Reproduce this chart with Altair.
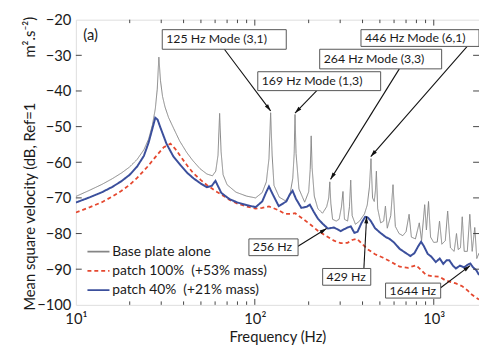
import math
import altair as alt
import pandas as pd

# ---------------- data ----------------
base_f = [10, 12, 14, 16, 18, 20, 22, 24, 25.5, 26.8, 27.8, 28.5, 29.1, 29.7, 30.5, 31.5, 33, 35.2, 38,
          41.7, 45, 49.4, 54, 58, 60.5, 62.3, 63.6, 64.8, 66.5, 70, 78.5, 90, 101, 110, 116, 120, 122.6,
          125, 128, 137, 148, 157, 163, 166, 167.8, 170, 176.5, 190, 200, 204, 206.6, 209, 215, 225, 239,
          252, 259, 262.5, 266, 272, 285, 296, 305, 311, 317, 330, 338, 343.5, 350, 365, 385, 410, 425,
          437, 446, 455, 465, 472, 478, 486, 505, 525, 537, 550, 575, 592, 610, 640, 671, 700, 728, 750,
          790, 830, 855, 890, 910, 935, 960, 1000, 1046, 1077, 1110, 1160, 1196, 1240, 1300, 1340, 1370,
          1410, 1443, 1480, 1540, 1590, 1640, 1695, 1740, 1790]
base_db = [-69.6, -67.8, -66.2, -64.6, -63, -61.3, -59.2, -56.5, -53.5, -49.5, -45, -39.5, -30.5, -37,
           -41.5, -44.5, -47.5, -50.5, -54, -57.3, -59.5, -61.8, -63.3, -63.8, -62.5, -58, -46.3, -57,
           -63.5, -66.3, -68.4, -69.5, -70, -68.5, -65.5, -59, -46.1, -58, -66.5, -69.8, -70.8, -69.3,
           -64.5, -57.5, -46.6, -57.5, -67.5, -71.2, -68.3, -62, -52.6, -61.5, -69.5, -73, -74.3, -72.5,
           -70, -65.5, -71.5, -76, -76.5, -76, -72.5, -68.2, -76, -76.5, -72.5, -65, -75, -77.4, -76.5,
           -74.5, -72, -67, -59, -70, -71, -68, -62.5, -73, -77, -76.5, -72.3, -78.5, -75, -66.3, -78,
           -80, -80.6, -79.5, -74.6, -81, -81.5, -77, -82, -71.9, -79, -71, -81, -82.5, -82.4, -76.5,
           -83, -82, -73.7, -84, -85, -80, -84.5, -84, -75.3, -85, -85, -74.6, -85, -78.3, -87, -85.5]

p100_f = [10, 12, 14, 16, 18, 20, 22, 25.2, 28.6, 31, 33.8, 36, 38.4, 42, 45.4, 50, 53.7, 60, 66.3, 72,
          80, 90, 101, 110, 120, 135, 148, 160, 168, 185, 206, 225, 247, 277, 302, 330, 350, 373, 400,
          424, 470, 522, 580, 645, 720, 760, 797, 840, 906, 990, 1073, 1150, 1222, 1330, 1443, 1550,
          1638, 1790]
p100_db = [-74.1, -72.6, -71.2, -69.6, -68, -66.3, -64.4, -61.2, -57.8, -55.8, -54.8, -56.3, -58.3, -61,
           -63.1, -65, -66.3, -68, -69.3, -70.5, -71.6, -72.4, -73, -72.8, -72.4, -73.4, -74.5, -74.5,
           -74.3, -75.8, -77.6, -79.2, -80.5, -82, -82.7, -82.6, -81.8, -81.5, -83, -84.3, -85.8, -86.8,
           -88, -89.3, -89.6, -89.2, -88.9, -90, -91.6, -92, -92.1, -93, -93.5, -94, -94.8, -96, -97.2,
           -98.5]

p40_f = [10, 12, 14, 16, 18, 20, 22, 24, 25.5, 26.8, 27.8, 28.6, 29.8, 32.1, 35, 38.4, 42, 45.4, 50, 54,
         57.5, 60.3, 62, 65, 72, 80, 90, 101, 110, 116, 120, 126, 136, 150, 157, 162.6, 170, 182, 195,
         203, 213, 225, 240, 256, 277, 302, 330, 344, 360, 375, 395, 414, 428, 445, 470, 500, 540, 566,
         600, 645, 700, 740, 780, 820, 850, 880, 925, 970, 1027, 1080, 1130, 1180, 1222, 1280, 1330,
         1400, 1480, 1540, 1600, 1660, 1730, 1790]
p40_db = [-71.3, -69.8, -68.4, -66.9, -65.3, -63.5, -61.2, -58.2, -54.5, -50.5, -47.5, -48, -50.5, -54.8,
          -58.3, -60.8, -63, -64.5, -66, -67, -66.6, -65.2, -66.5, -68.6, -70.3, -71.3, -72, -72.6, -71,
          -68.3, -66.8, -69, -72.3, -71, -69, -68, -70.3, -72.8, -72.5, -71.9, -73.8, -75.8, -77.3,
          -78.6, -78.3, -79.3, -78.3, -78, -79.8, -79.5, -77, -75.3, -75.5, -76.5, -78.5, -79.7, -81,
          -81.5, -82.5, -84.3, -85.5, -86.3, -85.5, -83.5, -82.3, -83.5, -85.7, -86.5, -88, -87, -88.5,
          -87.5, -87.5, -89, -89.8, -89, -89.5, -88.8, -88.4, -89.5, -90.3, -91.6]

series_names = ["Base plate alone",
                "patch 100%\u00a0\u00a0(+53% mass)",
                "patch 40%\u00a0\u00a0(+21% mass)"]
series_colors = ["#858585", "#e5482f", "#3b4f9c"]
series_dash = [[1, 0], [4, 3], [1, 0]]
series_width = [1.0, 1.8, 2.0]

# annotations: text, box (Hz, Hz, dB, dB), arrow tail (Hz, dB), arrow tip (Hz, dB)
ann_text = ["125 Hz Mode (3,1)", "169 Hz Mode (1,3)", "264 Hz Mode (3,3)", "446 Hz Mode (6,1)",
            "256 Hz", "429 Hz", "1644 Hz"]
ann_f1 = [30.4, 103.9, 230.5, 392, 92.7, 239.4, 538]
ann_f2 = [149.9, 505, 1107, 1790, 174.5, 444.6, 1093]
ann_db1 = [-22.8, -34.6, -28.3, -22.8, -81.5, -89.8, -93.9]
ann_db2 = [-28.3, -39.9, -33.8, -27.5, -86.2, -94.5, -98.1]
tail_f = [67.6, 222, 642, 1538, 172.5, 407, 1093]
tail_db = [-28.3, -39.9, -33.8, -27.5, -83.7, -89.8, -95.2]
tip_f = [122.6, 167.8, 265, 444.6, 251.8, 421.5, 1597]
tip_db = [-45.6, -46.2, -64.8, -58.4, -78.6, -75.2, -89.0]

panel_label = ["(a)"]
panel_f = [11.0]
panel_db = [-24.4]

x_labels = [10, 100, 1000]
y_labels = [-100, -90, -80, -70, -60, -50, -40, -30, -20]
x_major = [100, 1000]
x_minor = [20, 30, 40, 50, 60, 70, 80, 90, 200, 300, 400, 500, 600, 700, 800, 900]
y_ticks = [-90, -80, -70, -60, -50, -40, -30]

# ---------------- chart ----------------
W, H = 410, 290
X_MIN, X_MAX = 10, 1790
Y_MIN, Y_MAX = -100, -20
FONT = "Lato"
TXT = "#1a1a1a"
NB = "\u00a0"
Y_TITLE = "Mean square velocity (dB, Ref=1" + NB * 12 + "m\u00b2.s\u207b\u00b2)"

xscale = alt.Scale(type="log", domain=[X_MIN, X_MAX], nice=False)
yscale = alt.Scale(domain=[Y_MIN, Y_MAX], nice=False, zero=False)

rows = []
for name, fs, dbs in zip(series_names, [base_f, p100_f, p40_f], [base_db, p100_db, p40_db]):
    for f, d in zip(fs, dbs):
        rows.append({"series": name, "f": f, "db": d})
df = pd.DataFrame(rows)

xaxis = alt.Axis(values=x_labels,
                 labelExpr="datum.value == 10 ? '10\u00b9' : datum.value == 100 ? '10\u00b2' : '10\u00b3'",
                 grid=False, ticks=False, domain=False, labelFont=FONT, labelFontSize=15,
                 labelColor=TXT, labelPadding=7, labelFlush=False, labelOverlap=False,
                 title="Frequency (Hz)", titleFont=FONT, titleFontSize=15, titleFontWeight="normal",
                 titleColor=TXT, titleBaseline="middle", titleX=W / 2, titleY=32, titleAlign="center")
yaxis = alt.Axis(values=y_labels, grid=False, ticks=False, domain=False,
                 labelFont=FONT, labelFontSize=15, labelColor=TXT, labelPadding=5, labelFlush=False,
                 labelOverlap=False, title=Y_TITLE,
                 titleFont=FONT, titleFontSize=15, titleFontWeight="normal", titleColor=TXT,
                 titleAngle=270, titleBaseline="middle", titleAlign="center", titleX=-47, titleY=146)

legend = alt.Legend(title=None, orient="none", legendX=15, legendY=228, padding=0,
                    symbolType="M-1.6,0L1.6,0", symbolSize=196, symbolStrokeWidth=1.8,
                    labelFont=FONT, labelFontSize=14, labelColor=TXT, labelOffset=6,
                    rowPadding=4.5, fillColor="rgba(0,0,0,0)", strokeColor="rgba(0,0,0,0)")
color = alt.Color("series:N", scale=alt.Scale(domain=series_names, range=series_colors), legend=legend)
dash = alt.StrokeDash("series:N", scale=alt.Scale(domain=series_names, range=series_dash), legend=legend)


def ax(field):
    return alt.X(field, scale=xscale, axis=xaxis, title="Frequency (Hz)")


def ay(field):
    return alt.Y(field, scale=yscale, axis=yaxis, title=Y_TITLE)


layers = []
for name, sw in zip(series_names, series_width):
    layers.append(
        alt.Chart(df).transform_filter(alt.datum.series == name)
        .mark_line(strokeWidth=sw, clip=True)
        .encode(x=ax("f:Q"), y=ay("db:Q"), color=color, strokeDash=dash)
    )

# inward ticks (Matlab style)
xt_major = pd.DataFrame({"f": x_major})
xt_minor = pd.DataFrame({"f": x_minor})
yt = pd.DataFrame({"db": y_ticks})
TICK = "#444"
for data, ln in [(xt_major, 6), (xt_minor, 3.5)]:
    layers.append(alt.Chart(data).mark_rule(color=TICK, strokeWidth=1).encode(
        x=ax("f:Q"), y=alt.value(H), y2=alt.value(H - ln)))
    layers.append(alt.Chart(data).mark_rule(color=TICK, strokeWidth=1).encode(
        x=ax("f:Q"), y=alt.value(0), y2=alt.value(ln)))
layers.append(alt.Chart(yt).mark_rule(color=TICK, strokeWidth=1).encode(
    y=ay("db:Q"), x=alt.value(0), x2=alt.value(6)))
layers.append(alt.Chart(yt).mark_rule(color=TICK, strokeWidth=1).encode(
    y=ay("db:Q"), x=alt.value(W), x2=alt.value(W - 6)))

# annotations
px_dec = W / math.log10(X_MAX / X_MIN)
py_db = H / (Y_MAX - Y_MIN)
angles = []
for tf, td, pf, pd_ in zip(tail_f, tail_db, tip_f, tip_db):
    dx = px_dec * (math.log10(pf) - math.log10(tf))
    dy = -(pd_ - td) * py_db
    angles.append(math.degrees(math.atan2(dx, -dy)) % 360)

ann = pd.DataFrame({"text": ann_text, "f1": ann_f1, "f2": ann_f2, "db1": ann_db1, "db2": ann_db2,
                    "tf": tail_f, "tdb": tail_db, "pf": tip_f, "pdb": tip_db, "ang": angles})
ann["dbc"] = (ann["db1"] + ann["db2"]) / 2

layers.append(alt.Chart(ann).mark_rule(color="#111", strokeWidth=1.1).encode(
    x=ax("tf:Q"), x2="pf:Q", y=ay("tdb:Q"), y2="pdb:Q"))
layers.append(alt.Chart(ann).mark_point(shape="M0,0L0.55,1.9L-0.55,1.9Z", filled=True, size=55,
                                        color="#111", opacity=1).encode(
    x=ax("pf:Q"), y=ay("pdb:Q"), angle=alt.Angle("ang:Q", scale=None)))
layers.append(alt.Chart(ann).mark_rect(fill="white", stroke="#555", strokeWidth=1, clip=True).encode(
    x=ax("f1:Q"), x2="f2:Q", y=ay("db1:Q"), y2="db2:Q"))
layers.append(alt.Chart(ann).mark_text(align="left", baseline="middle", dx=4, font=FONT, fontSize=12.5,
                                       color=TXT).encode(
    x=ax("f1:Q"), y=ay("dbc:Q"), text="text:N"))

panel = pd.DataFrame({"t": panel_label, "f": panel_f, "db": panel_db})
layers.append(alt.Chart(panel).mark_text(align="left", baseline="middle", font=FONT, fontSize=15,
                                         color=TXT).encode(
    x=ax("f:Q"), y=ay("db:Q"), text="t:N"))

chart = alt.layer(*layers).properties(
    width=W, height=H,
    autosize=alt.AutoSizeParams(type="none"),
    padding={"left": 69, "top": 9, "right": 0, "bottom": 40},
).configure_view(stroke="#444", strokeWidth=1).configure(background="white")

chart.save("out.html", embed_options={"renderer": "svg", "actions": False})
